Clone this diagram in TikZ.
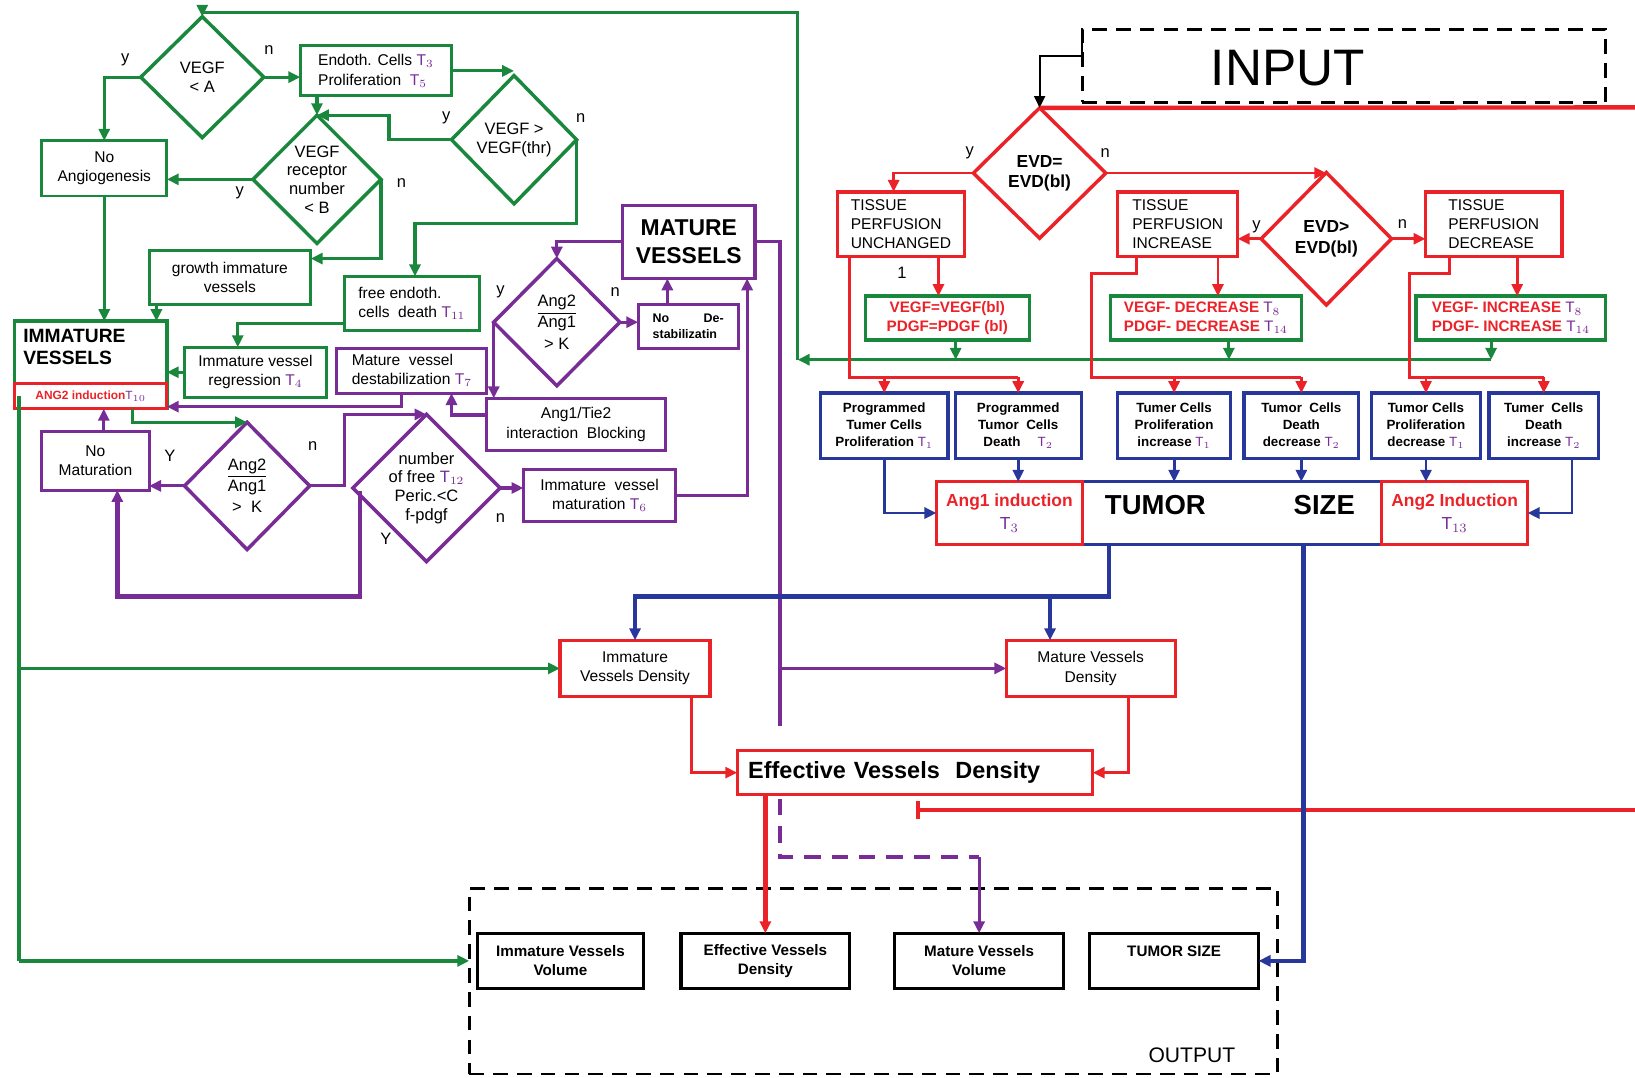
\documentclass[tikz,border=0pt]{standalone}
\usepackage{fontspec}
\setmainfont{Liberation Sans}
\usetikzlibrary{shapes.geometric,arrows.meta,calc}

\definecolor{vgreen}{RGB}{25,135,60}
\definecolor{vpurple}{RGB}{120,45,150}
\definecolor{vred}{RGB}{235,35,40}
\definecolor{vblue}{RGB}{40,55,155}
\newcommand{\Tn}[1]{\textcolor{vpurple}{$\mathrm{T}_{#1}$}}

\begin{document}
\begin{tikzpicture}[x=0.02cm, y=-0.02cm,
    sz/.style 2 args={minimum width=#1*0.02cm, minimum height=#2*0.02cm},
    box/.style={draw, rectangle, inner sep=1pt, outer sep=0pt, align=center, line width=1.6pt},
    dia/.style={draw, diamond, inner sep=0pt, outer sep=0pt, align=center, line width=1.9pt,
      font=\fontsize{9}{10.2}\selectfont},
    gbox/.style={box, draw=vgreen, font=\fontsize{8.5}{10.5}\selectfont},
    pbox/.style={box, draw=vpurple, font=\fontsize{8.5}{10.5}\selectfont},
    rbox/.style={box, draw=vred, line width=1.8pt, font=\fontsize{8.5}{10.5}\selectfont},
    vbox/.style={box, draw=vgreen, line width=1.8pt, text=vred, font=\bfseries\fontsize{8.3}{10.2}\selectfont},
    bbox/.style={box, draw=vblue, line width=1.8pt, font=\bfseries\fontsize{7.3}{9.3}\selectfont},
    obox/.style={box, draw=black, line width=1.8pt, font=\bfseries\fontsize{8.3}{10.2}\selectfont},
    dashbox/.style={box, draw=black, line width=1.6pt, dash pattern=on 8pt off 5pt},
    yn/.style={font=\fontsize{9}{10}\selectfont, inner sep=0pt},
    tip/.style={-{Triangle[length=6.5pt,width=6pt]}},
    gline/.style={vgreen, line width=1.7pt}, garrow/.style={gline, tip},
    pline/.style={vpurple, line width=1.7pt}, parrow/.style={pline, tip},
    pthick/.style={vpurple, line width=2.4pt},
    rline/.style={vred, line width=1.5pt}, rarrow/.style={rline, tip},
    rthick/.style={vred, line width=2.4pt},
    bline/.style={vblue, line width=1.5pt}, barrow/.style={bline, tip},
    bthick/.style={vblue, line width=2.4pt}]
  \useasboundingbox (0,0) rectangle (1568,1033);

  % --- immature vessels (green) ---
  \node[dia, draw=vgreen, sz={118}{116}] (vegfA) at (194,74) {VEGF\\< A};
  \node[gbox, sz={145}{48}, align=left] (endo) at (360.5,68) {Endoth. Cells \Tn{3}\\Proliferation \ \Tn{5}};
  \node[dia, draw=vgreen, sz={120}{123}] (vegfThr) at (493,134) {VEGF >\\VEGF(thr)};
  \node[dia, draw=vgreen, sz={119}{123}] (vegfRec) at (304,172) {VEGF\\receptor\\number\\< B};
  \node[gbox, sz={120}{53}] (noAng) at (100,161.5) {No\\Angiogenesis};
  \node[gbox, sz={155}{52}] (growth) at (220.5,266) {growth immature\\vessels};
  \node[gbox, sz={130}{52}, align=left] (freeEnd) at (395,291) {free endoth.\\cells \ death \Tn{11}};
  \node[gbox, sz={146}{84}, line width=1.9pt] (immV) at (87,350) {};
  \node[anchor=north west, align=left, inner sep=0pt, font=\bfseries\fontsize{10.5}{12.5}\selectfont]
    (immTxt) at (22,315) {IMMATURE\\VESSELS};
  \node[box, draw=vred, sz={146}{24}, text=vred, font=\bfseries\fontsize{6.5}{7}\selectfont]
    (ang2Ind) at (87,380) {ANG2 induction\Tn{10}};
  \node[gbox, sz={136}{48}] (regress) at (245,357) {Immature vessel\\regression \Tn{4}};

  % --- mature vessels (purple) ---
  \node[pbox, sz={144}{43}, align=left] (destab) at (395,355.5) {Mature \ vessel\\destabilization \Tn{7}};
  \node[pbox, sz={127}{70}, line width=1.9pt, font=\bfseries\fontsize{12.5}{15.5}\selectfont]
    (matV) at (660.5,232) {MATURE\\VESSELS};
  \node[dia, draw=vpurple, sz={121}{122}, font=\fontsize{9}{11.5}\selectfont] (ratioUp) at (534,309) {\underline{Ang2}\\Ang1\\> K};
  \node[pbox, sz={96}{42}, align=left, font=\bfseries\fontsize{6.8}{8.5}\selectfont]
    (noDest) at (660,313) {No \hspace{2.2em} De-\\stabilizatin};
  \node[pbox, sz={171}{50}] (blockA) at (552.5,407) {Ang1/Tie2\\interaction \ Blocking};
  \node[pbox, sz={103}{56}] (noMat) at (91.5,442) {No\\Maturation};
  \node[dia, draw=vpurple, sz={120}{122}, font=\fontsize{9}{11.5}\selectfont] (ratioLo) at (237,466) {\underline{Ang2}\\Ang1\\> \ K};
  \node[dia, draw=vpurple, sz={122}{125}] (numPer) at (409,468) {number\\of free \Tn{12}\\Peric.<C\\f-pdgf};
  \node[pbox, sz={146}{50}] (matur) at (575,475) {Immature \ vessel\\maturation \Tn{6}};

  % --- tumour (red / blue) ---
  \node[dashbox, sz={502}{70}] (input) at (1289,63) {};
  \node[font=\fontsize{28}{30}\selectfont, inner sep=0pt] (inputTxt) at (1235,65) {INPUT};
  \node[dia, draw=vred, sz={127}{125}, font=\bfseries\fontsize{9.5}{11}\selectfont] (evdEq) at (997,166) {EVD=\\EVD(bl)};
  \node[dia, draw=vred, sz={125}{127}, font=\bfseries\fontsize{9.5}{11}\selectfont] (evdGt) at (1272,229) {EVD>\\EVD(bl)};
  \node[rbox, sz={122}{62}, align=left] (tpU) at (864,215) {TISSUE\\PERFUSION\\UNCHANGED};
  \node[rbox, sz={115}{62}, align=left] (tpI) at (1129.5,215) {TISSUE\\PERFUSION\\INCREASE};
  \node[rbox, sz={131}{62}, align=left] (tpD) at (1432.5,215) {TISSUE\\PERFUSION\\DECREASE};
  \node[vbox, sz={157}{42}] (vU) at (908.5,305) {VEGF=VEGF(bl)\\PDGF=PDGF (bl)};
  \node[vbox, sz={183}{42}, align=left] (vI) at (1156.5,305) {VEGF- DECREASE \Tn{8}\\PDGF- DECREASE \Tn{14}};
  \node[vbox, sz={182}{42}, align=left] (vD) at (1449,305) {VEGF- INCREASE \Tn{8}\\PDGF- INCREASE \Tn{14}};
  \foreach \n/\x/\w/\t in {%
    b1/848/122/{Programmed\\Tumer Cells\\Proliferation \Tn{1}},
    b2/976.5/121/{Programmed\\Tumor \ Cells\\Death \quad \Tn{2}},
    b3/1126/108/{Tumer Cells\\Proliferation\\increase \Tn{1}},
    b4/1248/110/{Tumor \ Cells\\Death\\decrease \Tn{2}},
    b5/1367.5/105/{Tumor Cells\\Proliferation\\decrease \Tn{1}},
    b6/1480.5/105/{Tumer \ Cells\\Death\\increase \Tn{2}}}{
    \node[bbox, sz={\w}{63}] (\n) at (\x,408.5) {\t};
  }
  \node[box, draw=vblue, line width=1.8pt, sz={567}{60}] (tumor) at (1181.5,492) {};
  \node[rbox, sz={140}{60}, text=vred, font=\bfseries\fontsize{9.5}{13}\selectfont] (ang1Ind) at (968,492) {Ang1 induction\\\Tn{3}};
  \node[rbox, sz={140}{60}, text=vred, font=\bfseries\fontsize{9.5}{13}\selectfont] (ang2Ind2) at (1395,492) {Ang2 Induction\\\Tn{13}};
  \node[font=\bfseries\fontsize{15}{17}\selectfont, inner sep=0pt] (tumTxt) at (1108,484) {TUMOR};
  \node[font=\bfseries\fontsize{15}{17}\selectfont, inner sep=0pt] (sizeTxt) at (1270,484) {SIZE};

  % --- densities and output ---
  \node[rbox, sz={144}{54}] (ivd) at (609,641) {Immature\\Vessels Density};
  \node[rbox, sz={162}{54}] (mvd) at (1046,641) {Mature Vessels\\Density};
  \node[rbox, sz={341}{42}, text width=6.4cm, align=left, font=\bfseries\fontsize{12.8}{14}\selectfont]
    (evd) at (877.5,741) {Effective Vessels \ Density};
  \node[dashbox, sz={775}{178}] (outBox) at (837.5,941) {};
  \node[font=\fontsize{11.5}{13}\selectfont, inner sep=0pt] (outTxt) at (1143,1012) {OUTPUT};
  \foreach \n/\x/\w/\t in {%
    o1/537.5/159/{Immature Vessels\\Volume},
    o2/734/162/{Effective Vessels\\Density},
    o3/939/162/{Mature Vessels\\Volume},
    o4/1126/162/{TUMOR SIZE\\\mbox{}}}{
    \node[obox, sz={\w}{53}] (\n) at (\x,921.5) {\t};
  }

  % --- y / n marks ---
  \foreach \t/\x/\y [count=\i] in {y/120/57, n/258/48, y/428/113, n/557/113, y/230/185,
      n/385/176, y/480/280, n/590/280, Y/163/437, n/300/428, Y/370/517, n/480/497,
      y/930/147, n/1060/147, y/1205/218, n/1345/215, 1/865/262}{
    \node[yn] (yn\i) at (\x,\y) {\t};
  }

  % --- green connectors ---
  \coordinate (busR) at ($(vD.south)+(-19,19)$);
  \coordinate (busL) at (765,345);
  \coordinate (busTop) at (765,12);
  \draw[garrow] (vegfA.west) -| (noAng.north);
  \draw[garrow] (vegfA.east) -- (vegfA.east -| endo.west);
  \draw[garrow] (endo.east) -- (endo.east -| vegfThr.north);
  \draw[garrow] (vegfRec.north |- endo.south) -- (vegfRec.north);
  \draw[garrow] (vegfThr.west) -- ++(-60,0) |- (vegfRec.north);
  \draw[garrow] (vegfRec.west) -- (vegfRec.west -| noAng.east);
  \draw[garrow] (vegfRec.east) |- ($(growth.east)+(0,-18)$);
  \draw[garrow] (vegfThr.east) -- ++(0,80) -| ($(freeEnd.north)+(3,0)$);
  \draw[garrow] (noAng.south) -- (noAng.south |- immV.north);
  \draw[garrow] ($(growth.south west)+(7,0)$) -- ($(immV.north -| growth.south west)+(7,0)$);
  \draw[garrow] ($(freeEnd.south west)+(0,-7)$) -| ($(regress.north west)+(51,0)$);
  \draw[garrow] (regress.west) -- (regress.west -| immV.east);
  \draw[garrow] ($(immV.south west)+(113,0)$) |- (ratioLo.north);
  \foreach \n/\dx in {vU/8, vI/22, vD/-19}
    \draw[garrow] ($(\n.south)+(\dx,0)$) -- ($(\n.south |- busR)+(\dx,0)$);
  \draw[garrow] (busR) -- (busL);
  \draw[garrow] (busL) -- (busTop) -| (vegfA.north);
  \coordinate (gTop) at (18,380);
  \draw[gline, line width=2.2pt] (gTop) -- (18,922);
  \draw[garrow] (gTop |- ivd.west) -- (ivd.west);
  \draw[garrow, line width=2.2pt] (gTop |- o1.west) -- (outBox.west |- o1.west);

  % --- purple connectors ---
  \draw[parrow] (matV.west) -| (ratioUp.north);
  \draw[parrow] (ratioUp.east) -- (ratioUp.east -| noDest.west);
  \draw[parrow] ($(noDest.north)+(-20,0)$) -- ($(matV.south -| noDest.north)+(-20,0)$);
  \draw[parrow] (ratioUp.west) -- (ratioUp.west |- blockA.north);
  \draw[parrow] ($(blockA.west)+(0,-9)$) -| ($(destab.south)+(38,0)$);
  \draw[parrow] ($(destab.south)+(-10,0)$) |- ($(ang2Ind.east)+(0,10)$);
  \draw[parrow] (ratioLo.west) -- (ratioLo.west -| noMat.east);
  \draw[parrow] ($(noMat.north)+(8,0)$) -- ($(ang2Ind.south -| noMat.north)+(8,0)$);
  \draw[parrow] (ratioLo.east) -- ++(33,0) |- (numPer.north);
  \draw[pthick, tip] ($(numPer.west)+(7,3)$) -- ++(0,101) -| ($(noMat.south)+(21,0)$);
  \draw[parrow] (numPer.east) -- (numPer.east -| matur.west);
  \draw[parrow] (matur.east) -| ($(matV.south)+(56,0)$);
  \coordinate (pDash) at (748,680);
  \coordinate (pTurn) at ($(o3.north)+(0,-73)$);
  \draw[pline] (matV.east) -| (pDash);
  \draw[parrow] (mvd.west -| pDash) -- (mvd.west);
  \draw[pthick, dash pattern=on 9pt off 6pt] (pDash) -- ++(0,22);
  \draw[pthick, dash pattern=on 9pt off 6pt] ($(evd.south -| pDash)+(0,4)$) |- (pTurn);
  \draw[parrow] (pTurn) -- (o3.north);

  % --- red connectors ---
  \coordinate (edgeTop) at (1568,103);
  \coordinate (edgeBot) at (1568,777);
  \coordinate (inhEnd) at (878,777);
  \draw[black, line width=1.2pt, tip] ($(input.north west)+(0,9)$) -- ++(0,17) -| (evdEq.north);
  \draw[rthick] (edgeTop) -- (evdEq.north);
  \draw[rarrow] (evdEq.west) -| ($(tpU.north)+(-7,0)$);
  \draw[rarrow] (evdEq.east) -- (evdEq.east -| evdGt.north);
  \draw[rarrow] (evdGt.west) -- (evdGt.west -| tpI.east);
  \draw[rarrow] (evdGt.east) -- (evdGt.east -| tpD.west);
  \foreach \a/\b/\dx in {tpU/vU/36, tpI/vI/38.5, tpD/vD/22.5}
    \draw[rarrow] ($(\a.south)+(\dx,0)$) -- ($(\a.south |- \b.north)+(\dx,0)$);
  \draw[rline] ($(tpU.south west)+(12,0)$) |- ($(b2.north)+(0,-15)$);
  \draw[rline] ($(tpI.south west)+(18,0)$) -- ++(0,16) -- ++(-43,0) |- ($(b4.north)+(0,-15)$);
  \draw[rline] ($(tpD.south west)+(23,0)$) -- ++(0,16) -- ++(-38,0) |- ($(b6.north)+(0,-15)$);
  \foreach \b in {b1,b2,b3,b4,b5,b6}
    \draw[rarrow] ($(\b.north)+(0,-15)$) -- (\b.north);
  \draw[rarrow] ($(ivd.south)+(54,0)$) |- (evd.west);
  \draw[rarrow] ($(mvd.south)+(36,0)$) |- (evd.east);
  \draw[rthick, tip] (o2.north |- evd.south) -- (o2.north);
  \draw[rthick, -{Bar[width=10pt]}] (edgeBot) -- (inhEnd);

  % --- blue connectors ---
  \coordinate (bj) at ($(tumor.south)+(-118,50)$);
  \draw[barrow] (b1.south) |- (ang1Ind.west);
  \foreach \b in {b2,b3,b4,b5}
    \draw[barrow] (\b.south) -- (\b.south |- tumor.north);
  \draw[barrow] ($(b6.south)+(27,0)$) |- (ang2Ind2.east);
  \draw[bthick, tip] ($(tumor.south)+(-118,0)$) -- (bj) -| (ivd.north);
  \draw[bthick, tip] (bj -| mvd.north) ++(-39,0) -- ($(mvd.north)+(-39,0)$);
  \draw[bthick, tip] ($(tumor.south)+(68.5,0)$) |- (o4.east);
\end{tikzpicture}
\end{document}
